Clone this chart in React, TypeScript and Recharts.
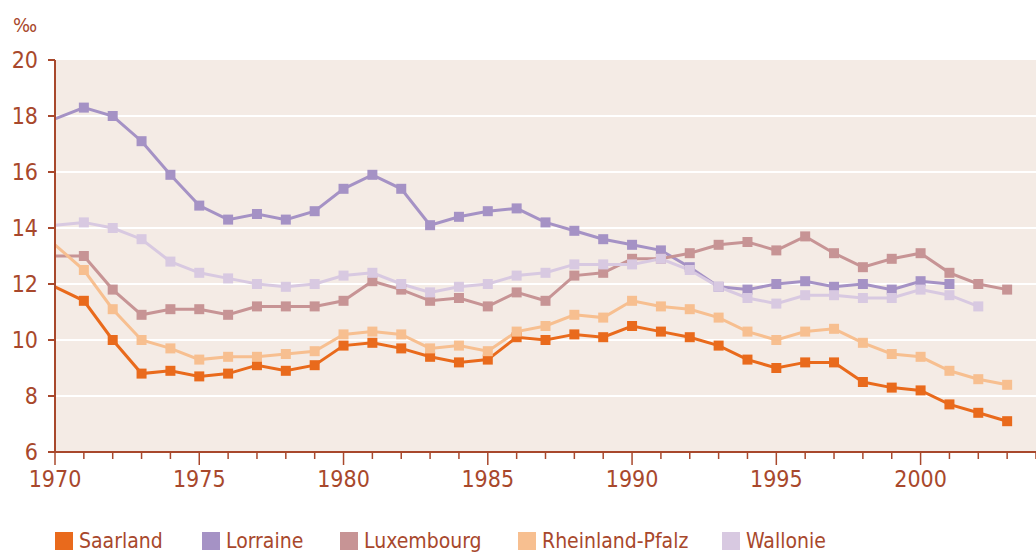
import { LineChart, Line, XAxis, YAxis, CartesianGrid, Legend } from 'recharts'

const years = [
  1970, 1971, 1972, 1973, 1974, 1975, 1976, 1977, 1978, 1979,
  1980, 1981, 1982, 1983, 1984, 1985, 1986, 1987, 1988, 1989,
  1990, 1991, 1992, 1993, 1994, 1995, 1996, 1997, 1998, 1999,
  2000, 2001, 2002, 2003,
]

const saarland = [
  11.9, 11.4, 10.0, 8.8, 8.9, 8.7, 8.8, 9.1, 8.9, 9.1,
  9.8, 9.9, 9.7, 9.4, 9.2, 9.3, 10.1, 10.0, 10.2, 10.1,
  10.5, 10.3, 10.1, 9.8, 9.3, 9.0, 9.2, 9.2, 8.5, 8.3,
  8.2, 7.7, 7.4, 7.1,
]
const lorraine = [
  17.9, 18.3, 18.0, 17.1, 15.9, 14.8, 14.3, 14.5, 14.3, 14.6,
  15.4, 15.9, 15.4, 14.1, 14.4, 14.6, 14.7, 14.2, 13.9, 13.6,
  13.4, 13.2, 12.6, 11.9, 11.8, 12.0, 12.1, 11.9, 12.0, 11.8,
  12.1, 12.0, null, null,
]
const luxembourg = [
  13.0, 13.0, 11.8, 10.9, 11.1, 11.1, 10.9, 11.2, 11.2, 11.2,
  11.4, 12.1, 11.8, 11.4, 11.5, 11.2, 11.7, 11.4, 12.3, 12.4,
  12.9, 12.9, 13.1, 13.4, 13.5, 13.2, 13.7, 13.1, 12.6, 12.9,
  13.1, 12.4, 12.0, 11.8,
]
const rheinlandPfalz = [
  13.4, 12.5, 11.1, 10.0, 9.7, 9.3, 9.4, 9.4, 9.5, 9.6,
  10.2, 10.3, 10.2, 9.7, 9.8, 9.6, 10.3, 10.5, 10.9, 10.8,
  11.4, 11.2, 11.1, 10.8, 10.3, 10.0, 10.3, 10.4, 9.9, 9.5,
  9.4, 8.9, 8.6, 8.4,
]
const wallonie = [
  14.1, 14.2, 14.0, 13.6, 12.8, 12.4, 12.2, 12.0, 11.9, 12.0,
  12.3, 12.4, 12.0, 11.7, 11.9, 12.0, 12.3, 12.4, 12.7, 12.7,
  12.7, 12.9, 12.5, 11.9, 11.5, 11.3, 11.6, 11.6, 11.5, 11.5,
  11.8, 11.6, 11.2, null,
]

const yTicks = [6, 8, 10, 12, 14, 16, 18, 20]
const xTicks = years.concat([2004])

const series = [
  { key: 'saarland', name: 'Saarland', color: '#E96A1C', values: saarland },
  { key: 'lorraine', name: 'Lorraine', color: '#A592C5', values: lorraine },
  { key: 'luxembourg', name: 'Luxembourg', color: '#C79495', values: luxembourg },
  { key: 'rheinland', name: 'Rheinland-Pfalz', color: '#F7BF90', values: rheinlandPfalz },
  { key: 'wallonie', name: 'Wallonie', color: '#D8C9E1', values: wallonie },
]
// legend item widths, roughly as spaced in the original
const legendWidths = [147, 138, 178, 204, 120]

const data = years.map((year, i) => {
  const row: Record<string, number | null> = { year }
  series.forEach(s => { row[s.key] = s.values[i] })
  return row
})

const RUST = '#A8482C'
const FONT = '"DejaVu Sans Condensed", "Liberation Sans Narrow", sans-serif'

const SquareDot = (color: string) => (props: any) => {
  const { cx, cy, payload, index } = props
  if (payload == null || payload.year === 1970 || cy == null || Number.isNaN(cy)) {
    return <g key={`d-${index}`} />
  }
  return <rect key={`d-${index}`} x={cx - 5} y={cy - 5} width={10} height={10} fill={color} />
}

const XTick = (props: any) => {
  const { x, y, payload } = props
  const v = payload.value as number
  const major = v % 5 === 0
  return (
    <g>
      <line x1={x} x2={x} y1={y} y2={y + (major ? 13 : 7)} stroke={RUST} strokeWidth={1.5} />
      {major && v <= 2000 && (
        <text x={x} y={y + 35} textAnchor="middle" fill={RUST} fontSize={23} fontFamily={FONT}>
          {v}
        </text>
      )}
    </g>
  )
}

const LegendContent = () => (
  <div style={{ display: 'flex', fontFamily: FONT, fontSize: 21, color: RUST, lineHeight: '24px' }}>
    {series.map((s, i) => (
      <div key={s.key} style={{ display: 'flex', alignItems: 'center', width: legendWidths[i], whiteSpace: 'nowrap' }}>
        <span style={{ width: 18, height: 18, background: s.color, display: 'inline-block', marginRight: 6 }} />
        <span>{s.name}</span>
      </div>
    ))}
  </div>
)

export default function App() {
  return (
    <div style={{ position: 'absolute', left: 0, top: 0, width: 1036, height: 553, background: '#fff', overflow: 'hidden' }}>
      <LineChart width={1036} height={553} data={data} margin={{ top: 60, right: 0, left: 0, bottom: 0 }}>
        <CartesianGrid
          vertical={false}
          horizontalValues={[8, 10, 12, 14, 16, 18]}
          stroke="#ffffff"
          strokeWidth={2}
          fill="#F4EBE5"
          fillOpacity={1}
        />
        <XAxis
          dataKey="year"
          type="number"
          domain={[1970, 2004]}
          ticks={xTicks}
          interval={0}
          tick={<XTick />}
          tickLine={false}
          tickSize={0}
          tickMargin={0}
          axisLine={{ stroke: RUST, strokeWidth: 2 }}
          height={77}
        />
        <YAxis
          domain={[6, 20]}
          ticks={yTicks}
          interval={0}
          width={55}
          tickSize={7}
          tickMargin={10}
          tickLine={{ stroke: RUST, strokeWidth: 2 }}
          axisLine={{ stroke: RUST, strokeWidth: 2 }}
          tick={{ fill: RUST, fontSize: 23, fontFamily: FONT }}
          label={{
            content: () => (
              <text x={13} y={32} fill={RUST} fontSize={20} fontFamily={FONT}>‰</text>
            ),
          }}
        />
        {series.map(s => (
          <Line
            key={s.key}
            dataKey={s.key}
            name={s.name}
            type="linear"
            stroke={s.color}
            strokeWidth={3}
            dot={SquareDot(s.color)}
            activeDot={false}
            isAnimationActive={false}
          />
        ))}
        <Legend
          content={<LegendContent />}
          wrapperStyle={{ position: 'absolute', left: 55, top: 529, width: 'auto' }}
        />
      </LineChart>
    </div>
  )
}
